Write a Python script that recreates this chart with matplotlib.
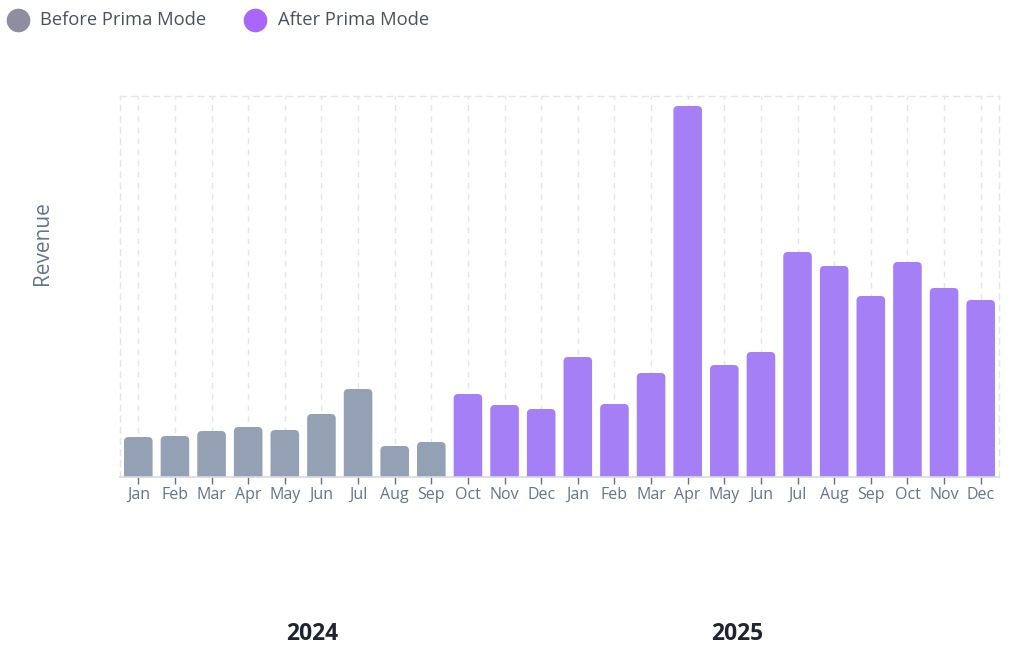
import matplotlib
matplotlib.use("Agg")
import matplotlib.pyplot as plt
from matplotlib.patches import FancyBboxPatch
from matplotlib.lines import Line2D
from matplotlib.transforms import blended_transform_factory

plt.rcParams['font.family'] = ['Open Sans', 'DejaVu Sans']

months = ["Jan", "Feb", "Mar", "Apr", "May", "Jun", "Jul", "Aug", "Sep", "Oct", "Nov", "Dec",
          "Jan", "Feb", "Mar", "Apr", "May", "Jun", "Jul", "Aug", "Sep", "Oct", "Nov", "Dec"]
before_values = [40, 41, 46, 50, 47, 63, 88, 31, 35]
after_values = [83, 72, 68, 120, 73, 104, 371, 112, 125, 225, 211, 181, 215, 189, 177]
years = ["2024", "2025"]
year_positions = [4.75, 16.35]
series_names = ["Before Prima Mode", "After Prima Mode"]

GRAY = "#94A0B4"
PURPLE = "#A57FF5"
LEG_GRAY = "#8E8EA0"
LEG_PURPLE = "#A867F9"
GRID = "#E2E5EC"

W, H = 1013, 662
fig = plt.figure(figsize=(W / 100, H / 100), dpi=100)
ax = fig.add_axes([120 / W, (H - 477) / H, (999 - 120) / W, (477 - 96) / H])

values = before_values + after_values
colors = [GRAY] * len(before_values) + [PURPLE] * len(after_values)
x = list(range(len(months)))
ymax = 381
ax.set_xlim(-0.5, len(months) - 0.5)
ax.set_ylim(0, ymax)

bars = ax.bar(x, values, width=0.78, color=colors, zorder=2)
fig.canvas.draw()
# convert bars into top-rounded rectangles
px_per_x = ax.bbox.width / (len(months))
px_per_y = ax.bbox.height / ymax
aspect = (1 / px_per_y) / (1 / px_per_x)
r = 4.5 / px_per_x
for b, c in zip(bars, colors):
    b.set_visible(False)
    bx, by, bw, bh = b.get_x(), b.get_y(), b.get_width(), b.get_height()
    patch = FancyBboxPatch((bx + r, by - 20), bw - 2 * r, bh + 20 - r * aspect,
                           boxstyle=f"round,pad={r}", mutation_aspect=aspect,
                           facecolor=c, edgecolor="none", zorder=2, clip_on=True)
    ax.add_patch(patch)

# grid lines
ax.set_xticks(x)
ax.set_xticklabels(months)
ax.grid(axis='x', color=GRID, linestyle=(0, (4, 4)), linewidth=1, zorder=0)
ax.set_yticks([])
for side in ['left', 'right', 'top']:
    ax.spines[side].set_color(GRID)
    ax.spines[side].set_linestyle((0, (4, 4)))
    ax.spines[side].set_linewidth(1)
ax.spines['bottom'].set_color("#D5D9E0")
ax.spines['bottom'].set_linewidth(1.2)
ax.tick_params(axis='x', colors="#6B6F7B", length=5, width=1, pad=2, labelsize=11.5)
for lbl in ax.get_xticklabels():
    lbl.set_color("#64748B")

# year labels
trans = blended_transform_factory(ax.transData, fig.transFigure)
for yr, pos in zip(years, year_positions):
    ax.text(pos, 1 - 634 / H, yr, transform=trans, ha='center', va='center',
            fontsize=16.5, fontweight='bold', color="#1F2430")

# y label
fig.text(42 / W, 1 - 243 / H, "Revenue", rotation=90, ha='center', va='center',
         fontsize=15, color="#64748B")

# legend
fig.add_artist(Line2D([18 / W], [1 - 20 / H], marker='o', markersize=16,
                      color=LEG_GRAY, linestyle='none', transform=fig.transFigure))
fig.text(40 / W, 1 - 20 / H, series_names[0], ha='left', va='center',
         fontsize=13.2, color="#4B5060")
fig.add_artist(Line2D([255 / W], [1 - 20 / H], marker='o', markersize=16,
                      color=LEG_PURPLE, linestyle='none', transform=fig.transFigure))
fig.text(278 / W, 1 - 20 / H, series_names[1], ha='left', va='center',
         fontsize=13.2, color="#4B5060")

fig.savefig("out.png", dpi=100)
